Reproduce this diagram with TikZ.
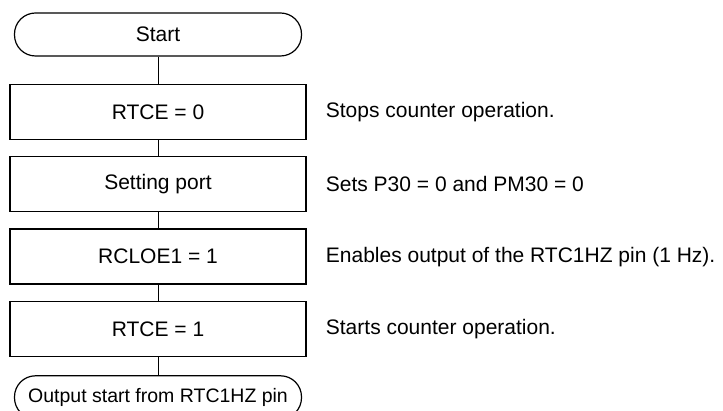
\documentclass[tikz,border=0pt]{standalone}
\usepackage{fontspec}
\setmainfont{Liberation Sans}
\usetikzlibrary{positioning}

\begin{document}
\begin{tikzpicture}[
    x=1pt, y=1pt,
    node distance=16pt,
    terminal/.style={rectangle, rounded corners=21pt, draw, line width=1.2pt, minimum width=287pt, minimum height=43pt, font=\fontsize{21}{25}\selectfont},
    process/.style={rectangle, draw, line width=1.4pt, minimum width=296pt, minimum height=55pt, font=\fontsize{21}{25}\selectfont},
    note/.style={inner sep=0pt, font=\fontsize{21}{25}\selectfont},
    line/.style={line width=0.8pt},
]
    \useasboundingbox (0,0) rectangle (723,-411);
    \node[terminal] (start) at (158,-34.5) {Start};
    \node[process, below=27pt of start] (rtcezero) {RTCE = 0};
    \node[process, below=of rtcezero] (setport) {Setting port};
    \node[process, below=of setport] (rcloe) {RCLOE1 = 1};
    \node[process, below=of rcloe] (rtceone) {RTCE = 1};
    \node[terminal, below=18pt of rtceone, font=\fontsize{19.5}{23}\selectfont] (outstart) {Output start from RTC1HZ pin};

    \node[note, right=19pt of rtcezero] (stopnote) {Stops counter operation.};
    \node[note, right=19pt of setport] (portnote) {Sets P30 = 0 and PM30 = 0};
    \node[note, right=19pt of rcloe] (rcloenote) {Enables output of the RTC1HZ pin (1 Hz).};
    \node[note, right=19pt of rtceone] (startnote) {Starts counter operation.};

    \draw[line] (start) -- (rtcezero);
    \draw[line] (rtcezero) -- (setport);
    \draw[line] (setport) -- (rcloe);
    \draw[line] (rcloe) -- (rtceone);
    \draw[line] (rtceone) -- (outstart);
\end{tikzpicture}
\end{document}
